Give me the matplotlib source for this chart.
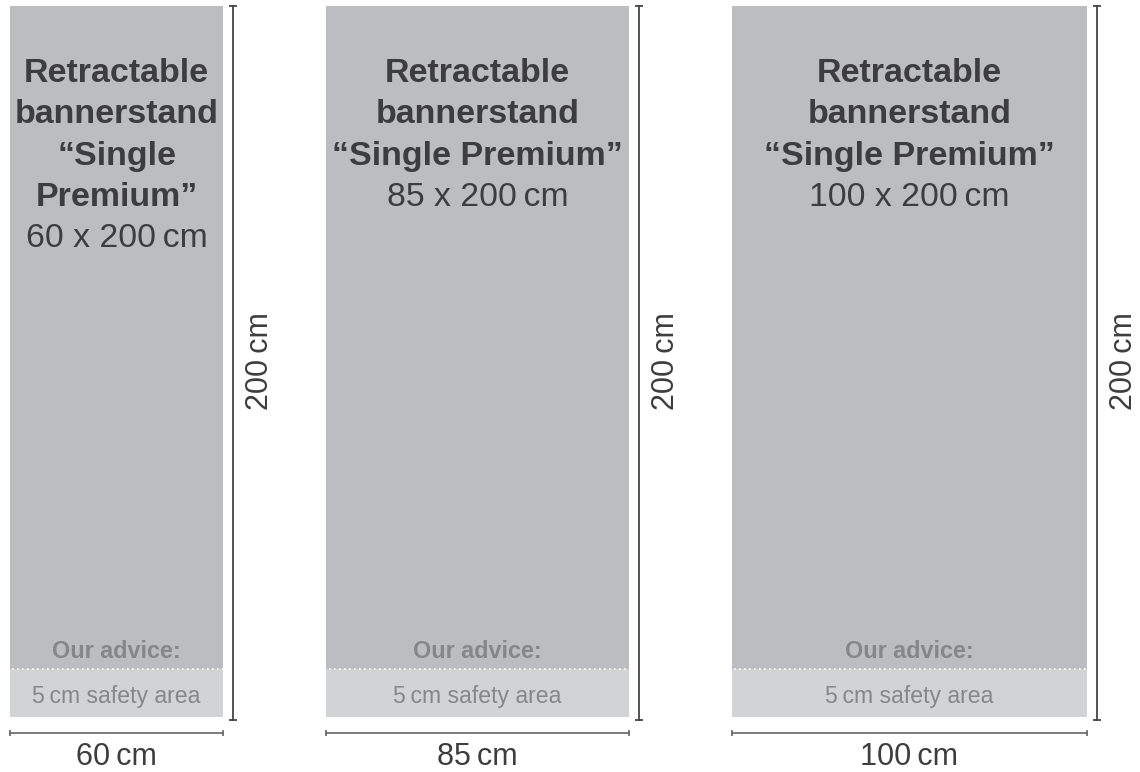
import matplotlib
matplotlib.use("Agg")
import matplotlib.pyplot as plt
from matplotlib.patches import Rectangle

plt.rcParams['font.family'] = ['Liberation Sans', 'DejaVu Sans']

# banner sizes in cm
widths = [60, 85, 100]
height = 200
title_lines = [
    ["Retractable", "bannerstand", "\u201cSingle", "Premium\u201d"],
    ["Retractable", "bannerstand", "\u201cSingle Premium\u201d"],
    ["Retractable", "bannerstand", "\u201cSingle Premium\u201d"],
]
size_labels = ["%d x 200\u2009cm" % w for w in widths]
width_labels = ["%d\u2009cm" % w for w in widths]
height_label = "200\u2009cm"
advice_label = "Our advice:"
safety_label = "5\u2009cm safety area"

# layout
px = 3.555            # pixels per cm
gap = 29.0            # cm between banners
safety_h = 13.5       # drawn height of safety band
banner_col = '#bcbdc1'
safety_col = '#d2d3d5'
text_col = '#3d3d3f'
light_text = '#86878b'
line_col = '#444444'

fig = plt.figure(figsize=(11.4, 7.72), dpi=100)
ax = fig.add_axes([0, 0, 1, 1])
ax.set_xlim(-10 / px, 1130 / px)
ax.set_ylim(-55 / px, 717 / px)
ax.axis('off')

left = 0.0
for i, w in enumerate(widths):
    cx = left + w / 2
    ax.add_patch(Rectangle((left, 0), w, height, color=banner_col, lw=0))
    ax.add_patch(Rectangle((left, 0), w, safety_h, color=safety_col, lw=0))
    ax.plot([left + 0.6, left + w], [safety_h, safety_h], color='white',
            lw=1.2, ls=(0, (1, 2)))

    y = 181.0
    step = 11.6
    for line in title_lines[i]:
        ax.text(cx, y, line, ha='center', va='center', fontsize=24.5,
                fontweight='bold', color=text_col)
        y -= step
    ax.text(cx, y, size_labels[i], ha='center', va='center', fontsize=24.3,
            color=text_col)

    ax.text(cx, 18.4, advice_label, ha='center', va='center', fontsize=16.8,
            fontweight='bold', color=light_text)
    ax.text(cx, 5.7, safety_label, ha='center', va='center', fontsize=16.6,
            color=light_text)

    # height dimension
    vx = left + w + 2.8
    ax.plot([vx, vx], [-0.8, height], color=line_col, lw=1.3)
    ax.plot([vx, vx], [-0.8, height], color=line_col, lw=0, marker='_',
            ms=6, mew=1.3)
    ax.text(vx + 7.6, height / 2, height_label, rotation=90, ha='center',
            va='center', fontsize=22, color=text_col)

    # width dimension
    hy = -4.5
    ax.plot([left, left + w], [hy, hy], color='#666666', lw=1.2)
    ax.plot([left, left + w], [hy, hy], color='#666666', lw=0, marker='|',
            ms=5, mew=1.2)
    ax.text(cx, -11.3, width_labels[i], ha='center', va='center',
            fontsize=22, color=text_col)

    left += w + gap

fig.savefig('out.png', dpi=100)
